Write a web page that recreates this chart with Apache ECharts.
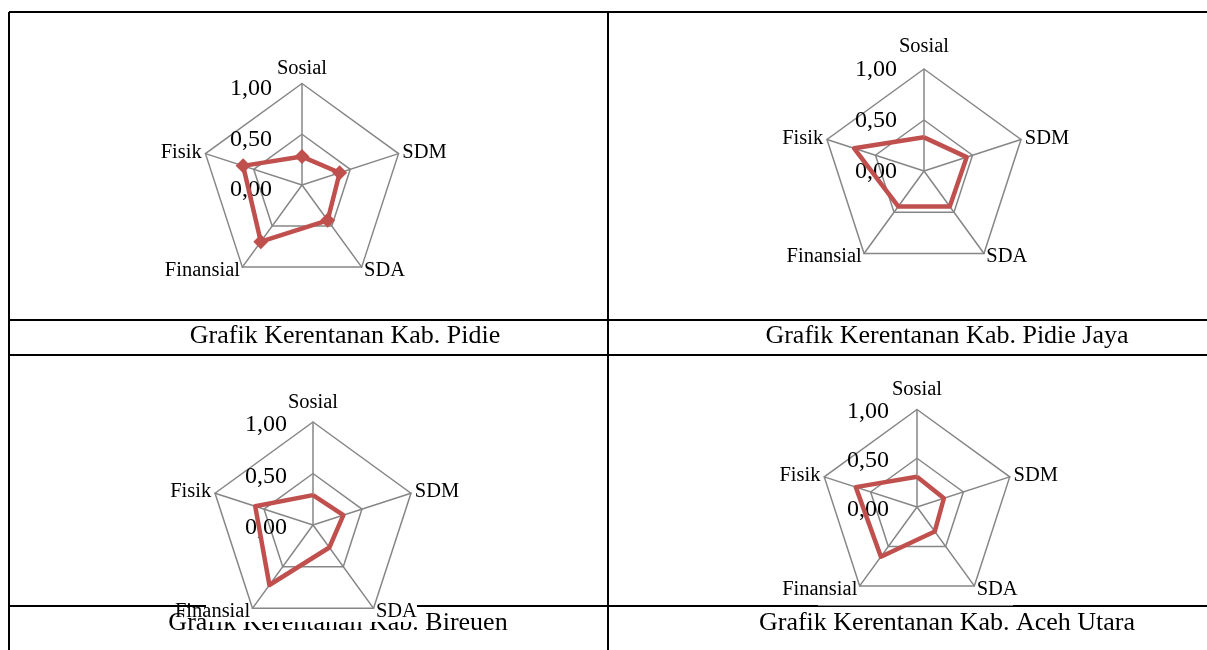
<!DOCTYPE html>
<html>
<head>
<meta charset="utf-8">
<script src="https://cdn.jsdelivr.net/npm/echarts@6/dist/echarts.min.js"></script>
<style>
  html, body { margin: 0; padding: 0; background: #fff; }
  #main { width: 1207px; height: 650px; }
</style>
</head>
<body>
<div id="main"></div>
<script>
// Vulnerability dimensions, listed clockwise from the top
const dimensions = ['Sosial', 'SDM', 'SDA', 'Finansial', 'Fisik'];

// Vulnerability index per regency (same order as dimensions)
const pidie     = [0.28, 0.39, 0.43, 0.69, 0.61];
const pidieJaya = [0.33, 0.44, 0.43, 0.43, 0.72];
const bireuen   = [0.29, 0.31, 0.27, 0.72, 0.59];
const acehUtara = [0.31, 0.29, 0.31, 0.63, 0.66];

// Radial scale
const tickValues = [0, 0.5, 1];
const tickLabels = ['0,00', '0,50', '1,00'];

const captions = [
  'Grafik Kerentanan Kab. Pidie',
  'Grafik Kerentanan Kab. Pidie Jaya',
  'Grafik Kerentanan Kab. Bireuen',
  'Grafik Kerentanan Kab. Aceh Utara'
];

const SERIF = '"Liberation Serif", "Times New Roman", serif';
const RED = '#C0504D';
const GRID = '#868686';

// ECharts places radar indicators counter-clockwise, so reorder
const order = [0, 4, 3, 2, 1];
const ccw = arr => order.map(i => arr[i]);

// Layout of the four panels
const panels = [
  { values: pidie,     center: [302, 185], radius: 101.5, markers: true, topGap: 4, labelMargin: 30, labelShift: 10 },
  { values: pidieJaya, center: [924, 171], radius: 102,   topGap: 8, labelMargin: 27, labelShift: 1 },
  { values: bireuen,   center: [313, 525], radius: 103,   topGap: 6, labelMargin: 26, labelShift: 6 },
  { values: acehUtara, center: [917, 507], radius: 97.5,  topGap: 6, labelMargin: 28, labelShift: 5 }
];

const captionPos = [[345, 336], [947, 336], [338, 623], [947, 623]];

// Table frame
const tableLines = [
  [9, 12, 1207, 12],
  [9, 320, 1207, 320],
  [9, 355, 1207, 355],
  [9, 606, 1207, 606],
  [9, 12, 9, 650],
  [608, 12, 608, 650]
];

const graphic = [];
tableLines.forEach(([x1, y1, x2, y2]) => {
  graphic.push({
    type: 'line', z: 0, silent: true,
    shape: { x1, y1, x2, y2 },
    style: { stroke: '#000', lineWidth: 2 }
  });
});
captions.forEach((text, i) => {
  graphic.push({
    type: 'text', z: 0, silent: true,
    x: captionPos[i][0], y: captionPos[i][1],
    style: {
      text, fill: '#000', font: '26px ' + SERIF,
      textAlign: 'center', textVerticalAlign: 'middle'
    }
  });
});
// Plot-area backgrounds of the lower charts sitting over the table rule
graphic.push({
  type: 'rect', z: 1, silent: true,
  shape: { x: 206, y: 560, width: 211, height: 62 },
  style: { fill: '#fff' }
});
graphic.push({
  type: 'rect', z: 1, silent: true,
  shape: { x: 818, y: 560, width: 195, height: 45.5 },
  style: { fill: '#fff' }
});

const option = {
  backgroundColor: '#fff',
  animation: false,
  graphic,
  radar: panels.map(p => ({
    center: p.center,
    radius: p.radius,
    startAngle: 90,
    shape: 'polygon',
    splitNumber: 2,
    z: 5,
    nameGap: 4,
    axisName: { color: '#000', fontFamily: SERIF, fontSize: 20.5 },
    splitLine: { lineStyle: { color: GRID, width: 1.5 } },
    splitArea: { show: false },
    axisLine: { lineStyle: { color: GRID, width: 1.5 } },
    axisTick: { show: false },
    axisLabel: {
      show: false,
      margin: p.labelMargin,
      formatter: v => '{t|' + tickLabels[tickValues.indexOf(v)] + '}',
      rich: {
        t: {
          color: '#000', fontFamily: SERIF, fontSize: 24,
          padding: [p.labelShift, 0, 0, 0]
        }
      }
    },
    indicator: ccw(dimensions).map((name, i) => ({
      name, min: 0, max: 1,
      nameGap: i === 0 ? p.topGap : 4,
      axisLabel: { show: i === 0 }
    }))
  })),
  series: panels.map((p, k) => ({
    type: 'radar',
    radarIndex: k,
    z: 6,
    silent: true,
    symbol: p.markers ? 'diamond' : 'none',
    symbolSize: 15,
    lineStyle: { color: RED, width: 4.5 },
    itemStyle: { color: RED },
    data: [{ value: ccw(p.values) }]
  }))
};

const chart = echarts.init(document.getElementById('main'));
chart.setOption(option);
</script>
</body>
</html>
